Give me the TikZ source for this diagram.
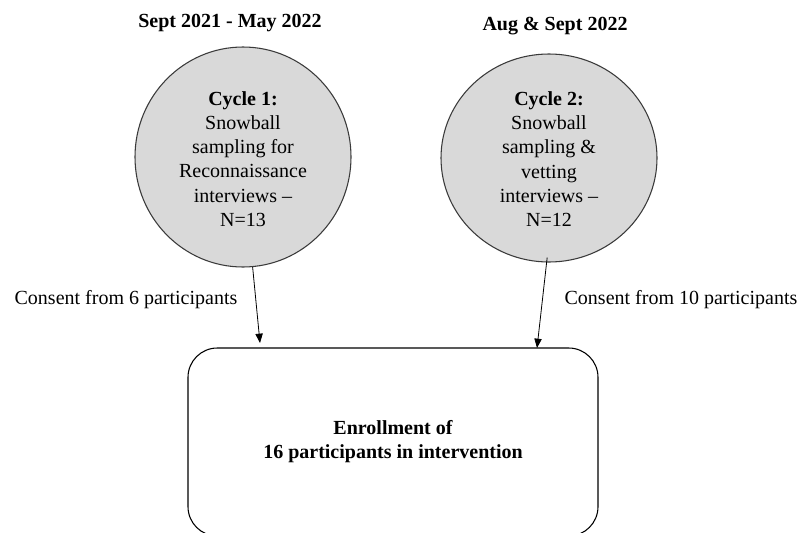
\documentclass[tikz,border=0pt]{standalone}
\usepackage{fontspec}
\setmainfont{Liberation Serif}
\usetikzlibrary{arrows.meta,shapes.geometric,calc}
\definecolor{cyclefill}{HTML}{D9D9D9}
\definecolor{cycleline}{HTML}{3A3A3A}
\tikzset{
  cyclebubble/.style={ellipse, draw=cycleline, fill=cyclefill, line width=0.8pt, inner sep=0pt},
  bubbletext/.style={align=center, font=\fontsize{15}{18.2}\selectfont, inner sep=0pt},
  heading/.style={font=\fontsize{15}{18}\selectfont\bfseries, inner sep=0pt},
  consent/.style={font=\fontsize{15}{18}\selectfont, inner sep=0pt},
  enrollbox/.style={draw=black, line width=0.8pt, rounded corners=22pt, align=center,
    font=\fontsize{15}{18}\selectfont\bfseries},
  flow/.style={line width=0.6pt, -{Triangle[length=7pt,width=5.5pt]}}
}
\begin{document}
\begin{tikzpicture}[x=0.75pt,y=-0.75pt]
  \useasboundingbox (0,0) rectangle (803,532);

  % period headings
  \node[heading] (h1) at (230,23) {Sept 2021 - May 2022};
  \node[heading] (h2) at (555,26) {Aug \& Sept 2022};

  % the two sampling cycles
  \node[cyclebubble, minimum width=162pt, minimum height=165pt] (c1) at (243,157) {};
  \node[bubbletext] (t1) at (243,159) {\textbf{Cycle 1:}\\Snowball\\sampling for\\Reconnaissance\\interviews --\\N=13};

  \node[cyclebubble, minimum width=162pt, minimum height=156pt] (c2) at (549,158) {};
  \node[bubbletext] (t2) at (549,159) {\textbf{Cycle 2:}\\Snowball\\sampling \&\\vetting\\interviews --\\N=12};

  % enrollment box
  \node[enrollbox, minimum width=307.5pt, minimum height=141pt] (enr) at (393,442)
    {Enrollment of\\16 participants in intervention};

  % consent labels
  \node[consent] (l1) at (126,300) {Consent from 6 participants};
  \node[consent] (l2) at (681,300) {Consent from 10 participants};

  % arrows into the enrollment box
  \coordinate (e1) at (260,343);
  \coordinate (e2) at (537,348);
  \draw[flow] (c1.-85) -- (e1);
  \draw[flow] ($(c2.-91)+(0,-5)$) -- (e2);
\end{tikzpicture}
\end{document}
